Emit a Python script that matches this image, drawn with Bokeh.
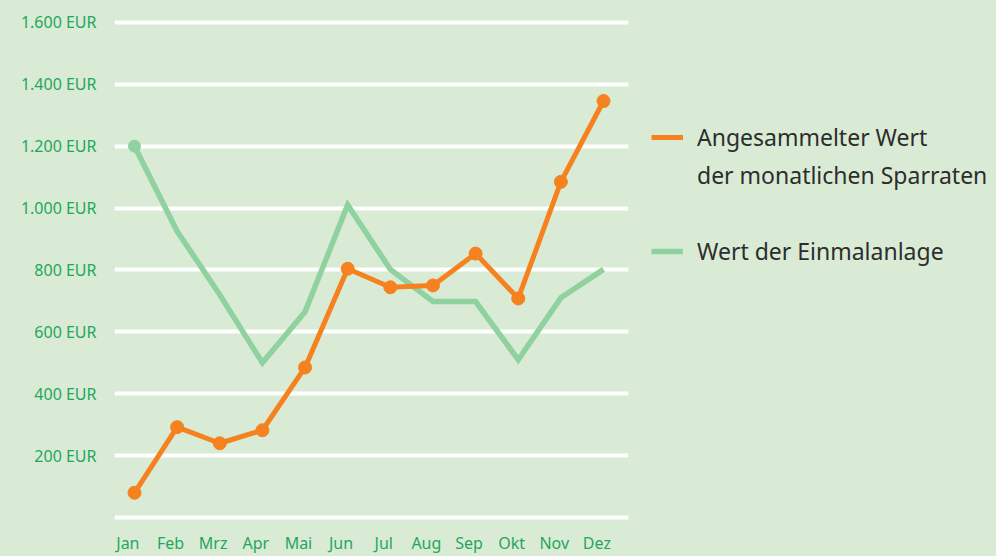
from bokeh.plotting import figure
from bokeh.layouts import row
from bokeh.models import Range1d, FixedTicker, LinearAxis, Legend, LegendItem, ColumnDataSource
from bokeh.embed import file_html
from bokeh.resources import INLINE

months = ["Jan", "Feb", "Mrz", "Apr", "Mai", "Jun", "Jul", "Aug", "Sep", "Okt", "Nov", "Dez"]
sparraten = [80, 292, 240, 282, 485, 804, 744, 750, 853, 708, 1085, 1346]
einmalanlage = [1200, 925, 720, 500, 665, 1010, 802, 698, 698, 510, 710, 802]
y_ticks = [0, 200, 400, 600, 800, 1000, 1200, 1400, 1600]
y_tick_labels = ["", "200 EUR", "400 EUR", "600 EUR", "800 EUR", "1.000 EUR", "1.200 EUR", "1.400 EUR", "1.600 EUR"]
label_sparraten = ["Angesammelter Wert", "der monatlichen Sparraten"]
label_einmal = "Wert der Einmalanlage"

BG = "#d9ebd5"
ORANGE = "#f5821f"
GREEN_LINE = "#8fd19f"
TICK_GREEN = "#1fa75c"
TEXT = "#2d2d2d"
FONT = "Noto Sans"

xs = list(range(len(months)))
src_s = ColumnDataSource(dict(x=xs, y=sparraten))
src_e = ColumnDataSource(dict(x=xs, y=einmalanlage))
src_e0 = ColumnDataSource(dict(x=xs[:1], y=einmalanlage[:1]))

x0, x1 = -0.469, 11.586
p = figure(width=638, height=556, output_backend="svg", toolbar_location=None,
           x_range=Range1d(x0, x1), y_range=Range1d(-16.1, 1638.6),
           x_axis_location=None,
           min_border_left=114, min_border_right=10, min_border_top=10, min_border_bottom=32)
p.background_fill_color = BG
p.border_fill_color = BG
p.outline_line_color = None
p.styles = {"background-color": BG}

shift = 0.155
p.extra_x_ranges = {"lbl": Range1d(x0 + shift, x1 + shift)}
xaxis = LinearAxis(x_range_name="lbl")
xaxis.ticker = FixedTicker(ticks=xs)
xaxis.major_label_overrides = {i: m for i, m in enumerate(months)}
p.add_layout(xaxis, "below")

for ax in [xaxis, p.yaxis[0]]:
    ax.axis_line_color = None
    ax.major_tick_line_color = None
    ax.minor_tick_line_color = None
    ax.major_tick_out = 0
    ax.major_tick_in = 0
    ax.major_label_text_color = TICK_GREEN
    ax.major_label_text_font = FONT
    ax.major_label_text_font_size = "16px"
xaxis.major_label_standoff = 9

p.yaxis.ticker = FixedTicker(ticks=y_ticks)
p.yaxis.major_label_overrides = {t: l for t, l in zip(y_ticks, y_tick_labels)}
p.yaxis.major_label_standoff = 18

p.xgrid.visible = False
p.ygrid.grid_line_color = "white"
p.ygrid.grid_line_width = 4

p.line("x", "y", source=src_e, line_color=GREEN_LINE, line_width=5.5, line_join="miter")
p.scatter("x", "y", source=src_e0, size=12, color=GREEN_LINE)
p.line("x", "y", source=src_s, line_color=ORANGE, line_width=5, line_join="round")
p.scatter("x", "y", source=src_s, size=13, color=ORANGE)

# legend panel (series drawn out of view, only used as legend glyph sources)
lp = figure(width=358, height=556, output_backend="svg", toolbar_location=None,
            x_range=Range1d(0, 1), y_range=Range1d(0, 1),
            x_axis_location=None, y_axis_location=None,
            min_border=0, min_border_left=0, min_border_right=0,
            min_border_top=0, min_border_bottom=0)
lp.background_fill_color = BG
lp.border_fill_color = BG
lp.outline_line_color = None
lp.styles = {"background-color": BG}
lp.grid.visible = False
l_s = lp.line("x", "y", source=src_s, line_color=ORANGE, line_width=5)
l_e = lp.line("x", "y", source=src_e, line_color=GREEN_LINE, line_width=5.5)
l_blank = lp.line("x", "y", source=src_s, line_alpha=0)

leg = Legend(items=[LegendItem(label=label_sparraten[0], renderers=[l_s]),
                    LegendItem(label=label_sparraten[1], renderers=[l_blank]),
                    LegendItem(label=" ", renderers=[l_blank]),
                    LegendItem(label=label_einmal, renderers=[l_e])],
             location=(13, 255), orientation="vertical")
leg.background_fill_alpha = 0
leg.border_line_alpha = 0
leg.padding = 0
leg.margin = 0
leg.glyph_width = 32
leg.glyph_height = 32
leg.label_height = 32
leg.label_standoff = 14
leg.spacing = 6
leg.label_text_font = FONT
leg.label_text_font_size = "23px"
leg.label_text_color = TEXT
lp.add_layout(leg)

layout = row(p, lp, spacing=0, styles={"background-color": BG})
open("out.html", "w").write(file_html(layout, INLINE))
